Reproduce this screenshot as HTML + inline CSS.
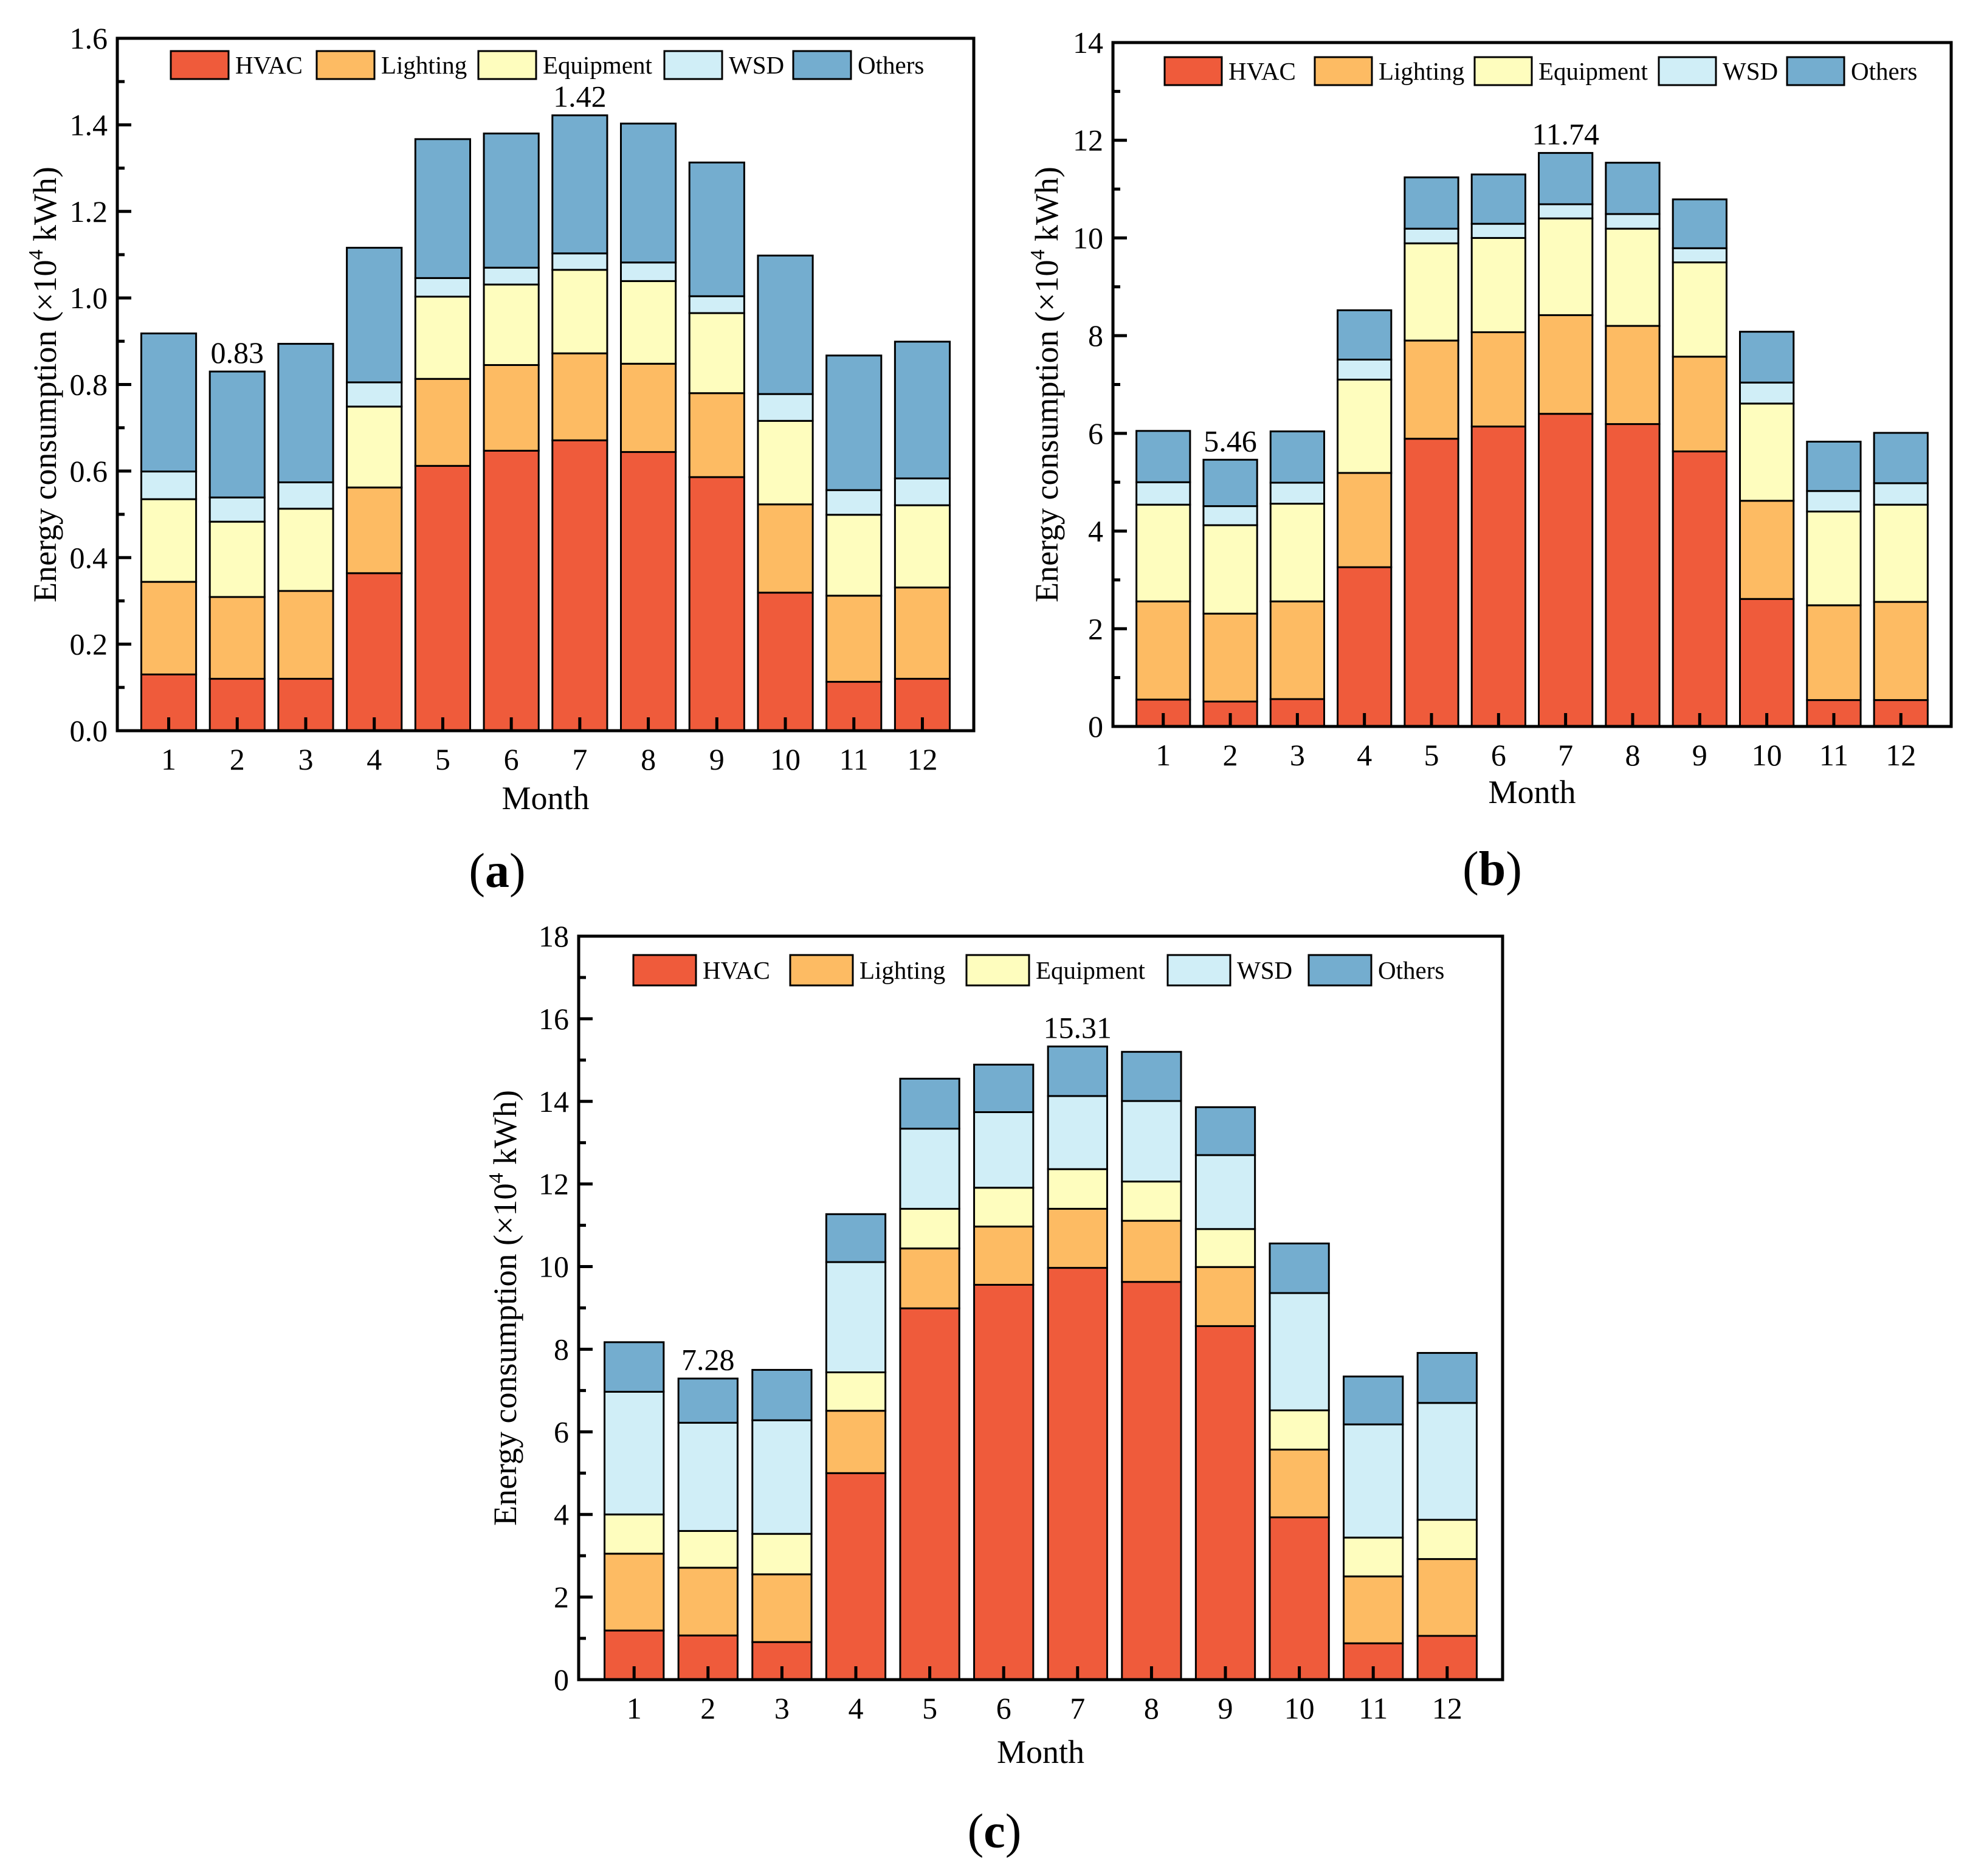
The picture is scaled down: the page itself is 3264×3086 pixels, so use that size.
<!DOCTYPE html>
<html><head><meta charset="utf-8"><title>Monthly energy consumption</title>
<style>
html,body{margin:0;padding:0;background:#fff;}
svg{display:block;}
svg text{font-family:"Liberation Serif","DejaVu Serif",serif;}
</style></head>
<body>
<svg id="fig" width="3264" height="3086" viewBox="0 0 3264 3086" xmlns="http://www.w3.org/2000/svg"></svg>
<script>
const months = ["1","2","3","4","5","6","7","8","9","10","11","12"];
const seriesNames = ["HVAC","Lighting","Equipment","WSD","Others"];
const seriesColors = ["#EF5B3B","#FDBB63","#FEFDBE","#D0EEF7","#74ADCF"];

// Panel (a) values (x10^4 kWh)
const aHVAC = [0.13,0.12,0.12,0.364,0.612,0.647,0.671,0.644,0.586,0.319,0.113,0.12];
const aLighting = [0.214,0.189,0.203,0.198,0.201,0.198,0.201,0.204,0.194,0.204,0.199,0.211];
const aEquipment = [0.191,0.174,0.19,0.187,0.19,0.186,0.193,0.191,0.185,0.193,0.187,0.19];
const aWSD = [0.064,0.056,0.061,0.056,0.043,0.039,0.038,0.043,0.039,0.062,0.057,0.062];
const aOthers = [0.319,0.291,0.32,0.311,0.321,0.31,0.319,0.321,0.309,0.32,0.311,0.316];
const aTicks = ["0.0","0.2","0.4","0.6","0.8","1.0","1.2","1.4","1.6"];
const aValueLabels = ["","0.83","","","","","1.42","","","","",""];

// Panel (b) values
const bHVAC = [0.55,0.51,0.56,3.26,5.89,6.14,6.4,6.19,5.63,2.61,0.54,0.54];
const bLighting = [2.01,1.8,2.0,1.93,2.01,1.93,2.02,2.01,1.94,2.01,1.94,2.01];
const bEquipment = [1.98,1.81,2.0,1.91,1.99,1.93,1.98,1.99,1.93,1.99,1.92,1.99];
const bWSD = [0.46,0.39,0.43,0.41,0.3,0.29,0.29,0.3,0.29,0.43,0.42,0.44];
const bOthers = [1.05,0.95,1.05,1.01,1.05,1.01,1.05,1.05,1.0,1.04,1.01,1.03];
const bTicks = ["0","2","4","6","8","10","12","14"];
const bValueLabels = ["","5.46","","","","","11.74","","","","",""];

// Panel (c) values
const cHVAC = [1.19,1.07,0.91,5.0,8.99,9.56,9.97,9.63,8.56,3.93,0.88,1.06];
const cLighting = [1.86,1.64,1.64,1.51,1.45,1.41,1.43,1.48,1.43,1.64,1.62,1.86];
const cEquipment = [0.95,0.89,0.98,0.93,0.96,0.94,0.96,0.95,0.92,0.95,0.94,0.95];
const cWSD = [2.97,2.62,2.75,2.67,1.94,1.83,1.77,1.95,1.79,2.84,2.74,2.83];
const cOthers = [1.2,1.07,1.22,1.16,1.21,1.15,1.2,1.19,1.16,1.2,1.16,1.21];
const cTicks = ["0","2","4","6","8","10","12","14","16","18"];
const cValueLabels = ["","7.28","","","","","15.31","","","","",""];

const NS = "http://www.w3.org/2000/svg";
const svg = document.getElementById("fig");
function mk(tag, attrs, parent){
  const e = document.createElementNS(NS, tag);
  for (const k in attrs) e.setAttribute(k, attrs[k]);
  (parent||svg).appendChild(e);
  return e;
}

function drawPanel(cfg){
  const g = mk("g", {});
  
  
  const L=cfg.left, R=cfg.right, T=cfg.top, B=cfg.bottom;
  const ymax = cfg.ymax;
  const xs = v => L + (v - 0.25) / 12.5 * (R - L);
  const ys = v => B - v / ymax * (B - T);
  const pitch = (R - L) / 12.5;
  const bw = pitch * 0.8;
  for (let i = 0; i < months.length; i++){
    let cum = 0;
    for (let s = 0; s < cfg.series.length; s++){
      const v = cfg.series[s][i];
      const y0 = ys(cum), y1 = ys(cum + v);
      const r = mk("rect", {x: xs(i+1) - bw/2, y: y1, width: bw, height: y0 - y1,
        fill: seriesColors[s], stroke: "#000", "stroke-width": 3}, g);
      
      
      cum += v;
    }
    if (cfg.valueLabels[i]){
      const t = mk("text", {x: xs(i+1), y: ys(cum) - 14, "font-size": 50, "text-anchor": "middle"}, g);
      t.textContent = cfg.valueLabels[i];
      
      
    }
  }
  const box = mk("rect", {x: L, y: T, width: R - L, height: B - T, fill: "none", stroke: "#000", "stroke-width": 5}, g);
  
  
  const step = ymax / (cfg.ticks.length - 1);
  for (let k = 0; k < cfg.ticks.length; k++){
    const y = ys(k * step);
    const tk = mk("line", {x1: L, x2: L + 23, y1: y, y2: y, stroke: "#000", "stroke-width": 5}, g);
    
    
    const tl = mk("text", {x: L - 16, y: y + 17, "font-size": 50, "text-anchor": "end"}, g);
    tl.textContent = cfg.ticks[k];
    
    
    if (k < cfg.ticks.length - 1){
      const ym = ys((k + 0.5) * step);
      const mt = mk("line", {x1: L, x2: L + 12, y1: ym, y2: ym, stroke: "#000", "stroke-width": 5}, g);
      
      
    }
  }
  for (let i = 0; i < months.length; i++){
    const x = xs(i+1);
    const tk = mk("line", {x1: x, x2: x, y1: B, y2: B - 22, stroke: "#000", "stroke-width": 5}, g);
    
    
    const tl = mk("text", {x: x, y: B + 64, "font-size": 50, "text-anchor": "middle"}, g);
    tl.textContent = months[i];
    
    
  }
  const xt = mk("text", {x: (L + R) / 2, y: cfg.monthY + 18, "font-size": 54, "text-anchor": "middle"}, g);
  xt.textContent = "Month";
  
  
  const yt = mk("text", {x: 0, y: 0, "font-size": 54, "text-anchor": "middle",
    transform: "translate(" + (cfg.ytitleX + 18) + "," + ((T + B) / 2) + ") rotate(-90)"}, g);
  
  
  yt.appendChild(document.createTextNode("Energy consumption (×10"));
  const sup = mk("tspan", {"font-size": 34, dy: -22}, yt);
  sup.textContent = "4";
  const rest = mk("tspan", {dy: 22}, yt);
  rest.textContent = " kWh)";
  for (let s = 0; s < seriesNames.length; s++){
    const lg = mk("g", {}, g);
    
    
    mk("rect", {x: cfg.legBox[s], y: cfg.legY, width: cfg.legW, height: cfg.legH,
      fill: seriesColors[s], stroke: "#000", "stroke-width": 3}, lg);
    const lt = mk("text", {x: cfg.legBox[s] + cfg.legW + 11, y: cfg.legY + cfg.legH/2 + 14, "font-size": 41}, lg);
    lt.textContent = seriesNames[s];
  }
  const pl = mk("text", {x: cfg.labelX, y: cfg.labelY + 28, "font-size": 80, "text-anchor": "middle"}, g);
  
  
  pl.appendChild(document.createTextNode("("));
  const bl = mk("tspan", {"font-weight": "bold"}, pl);
  bl.textContent = cfg.id;
  pl.appendChild(document.createTextNode(")"));
}

drawPanel({id:"a", left:193, right:1602, top:63, bottom:1202, ymax:1.6,
  series:[aHVAC,aLighting,aEquipment,aWSD,aOthers], ticks:aTicks, valueLabels:aValueLabels,
  legBox:[281,521,787,1093,1305], legW:95, legH:46, legY:84,
  monthY:1313, ytitleX:74, labelX:818, labelY:1431});

drawPanel({id:"b", left:1831, right:3210, top:70, bottom:1195, ymax:14,
  series:[bHVAC,bLighting,bEquipment,bWSD,bOthers], ticks:bTicks, valueLabels:bValueLabels,
  legBox:[1916,2163,2426,2729,2940], legW:94, legH:46, legY:94,
  monthY:1303, ytitleX:1722, labelX:2455, labelY:1428});

drawPanel({id:"c", left:952, right:2472, top:1540, bottom:2763, ymax:18,
  series:[cHVAC,cLighting,cEquipment,cWSD,cOthers], ticks:cTicks, valueLabels:cValueLabels,
  legBox:[1042,1300,1590,1921,2153], legW:103, legH:50, legY:1571,
  monthY:2882, ytitleX:831, labelX:1636, labelY:3011});
</script>
</body></html>
